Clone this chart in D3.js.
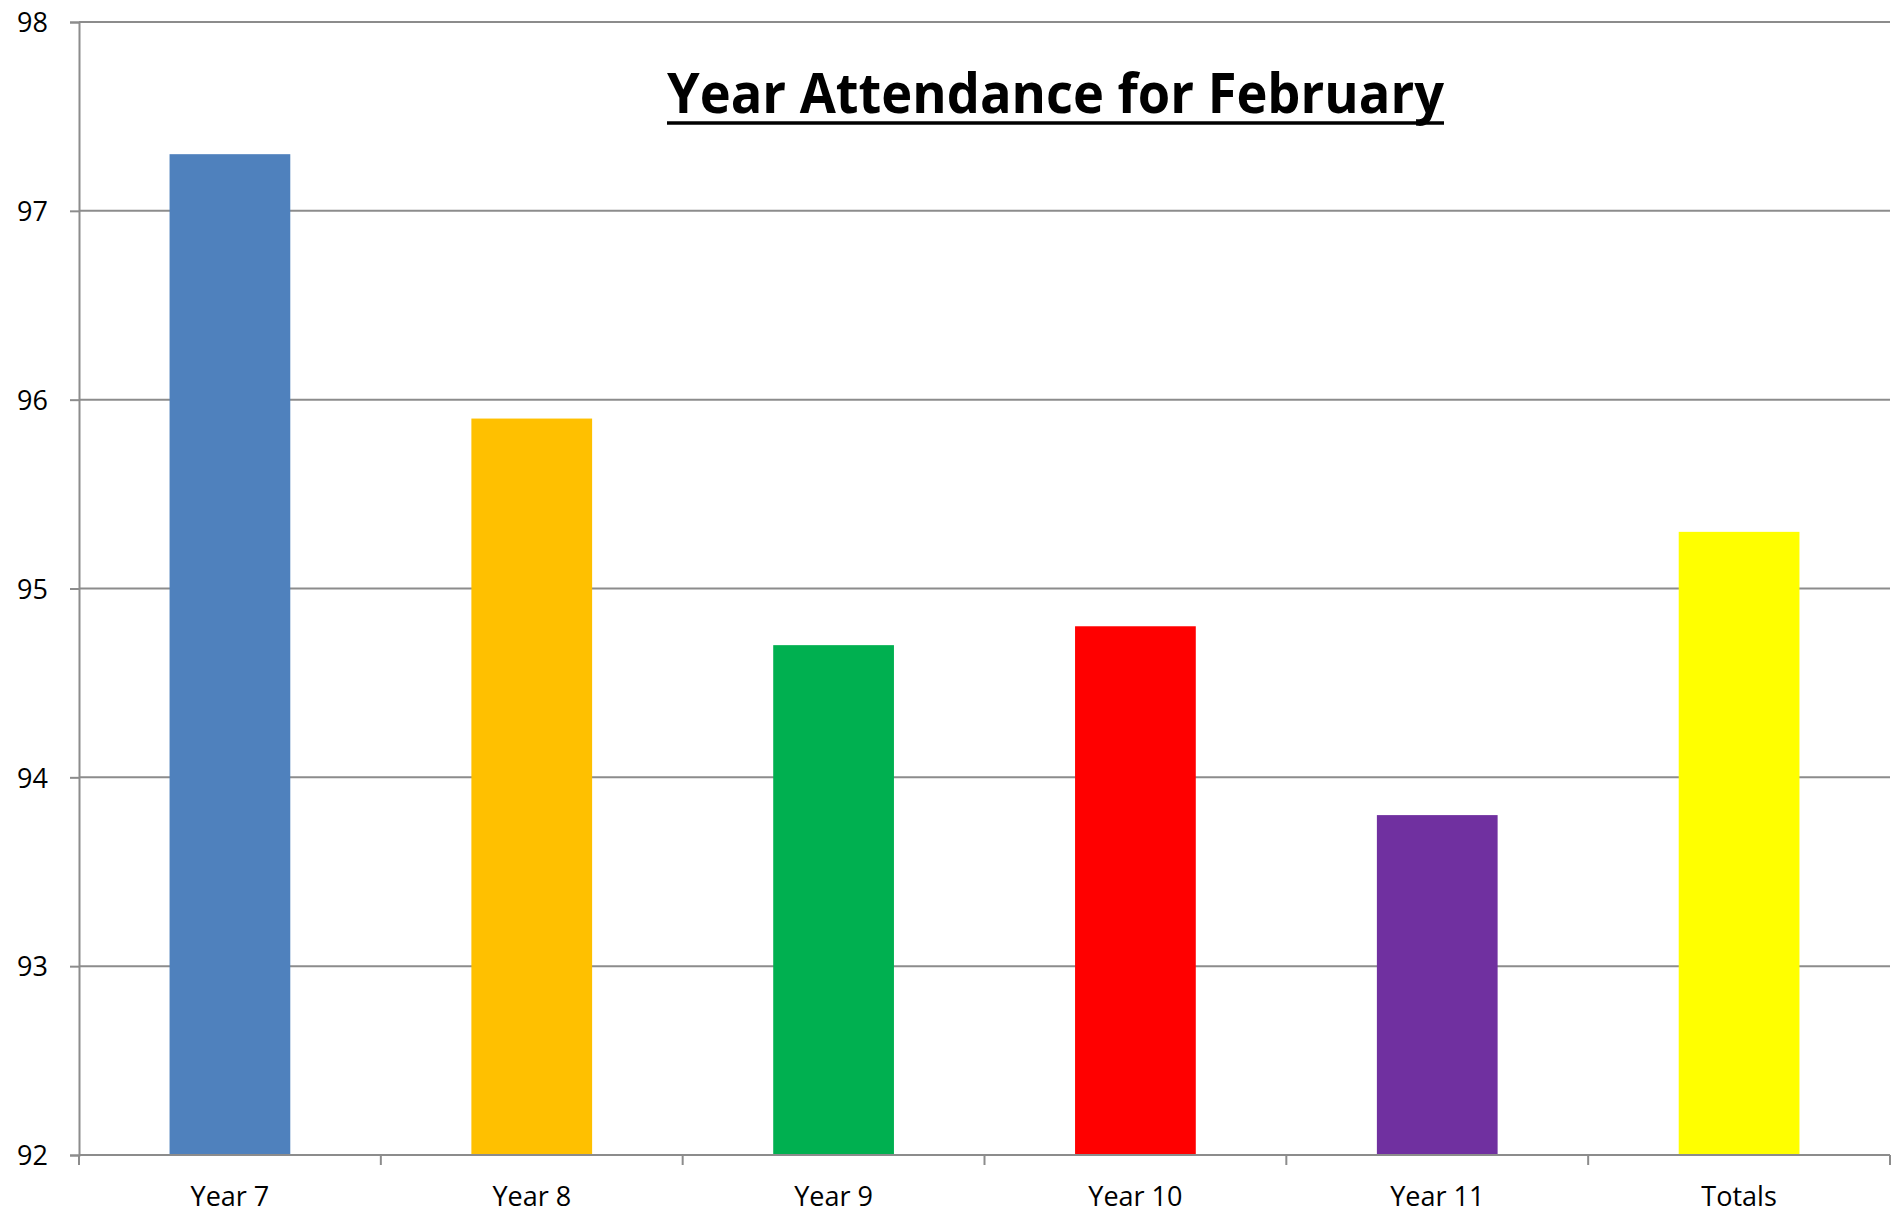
<!DOCTYPE html>
<html>
<head>
<meta charset="utf-8">
<script src="https://cdn.jsdelivr.net/npm/d3@7"></script>
<style>
  html, body { margin: 0; padding: 0; background: #fff; }
  svg { display: block; }
  .tick text { font-family: "Open Sans", sans-serif; fill: #000; }
</style>
</head>
<body>
<svg id="chart" width="1901" height="1217"></svg>
<script>
const categories = ['Year 7', 'Year 8', 'Year 9', 'Year 10', 'Year 11', 'Totals'];
const attendance = [97.3, 95.9, 94.7, 94.8, 93.8, 95.3];
const barColors = ['#4f81bd', '#ffc000', '#00b050', '#ff0000', '#7030a0', '#ffff00'];
const yTicks = [92, 93, 94, 95, 96, 97, 98];

const width = 1901;
const height = 1217;
const margin = { top: 22, right: 11, bottom: 62, left: 79 };

const svg = d3.select('#chart');

const x = d3.scaleBand()
  .domain(categories)
  .range([margin.left, width - margin.right])
  .paddingInner(0.6)
  .paddingOuter(0.3);

const y = d3.scaleLinear()
  .domain([92, 98])
  .range([height - margin.bottom, margin.top]);

// gridlines
svg.append('g')
  .attr('class', 'grid')
  .selectAll('line')
  .data(yTicks.slice(1))
  .enter()
  .append('line')
  .attr('x1', margin.left)
  .attr('x2', width - margin.right)
  .attr('y1', d => y(d))
  .attr('y2', d => y(d))
  .attr('stroke', '#8c8c8c')
  .attr('stroke-width', 2);

// bars
svg.append('g')
  .selectAll('rect')
  .data(categories)
  .enter()
  .append('rect')
  .attr('x', d => x(d))
  .attr('width', x.bandwidth())
  .attr('y', (d, i) => y(attendance[i]))
  .attr('height', (d, i) => y(92) - y(attendance[i]))
  .attr('fill', (d, i) => barColors[i]);

// y axis
const yAxis = svg.append('g')
  .attr('transform', `translate(${margin.left},0)`)
  .call(d3.axisLeft(y).tickValues(yTicks).tickFormat(d3.format('d')).tickSize(9).tickPadding(22));
yAxis.select('.domain').attr('stroke', '#8c8c8c').attr('stroke-width', 2);
yAxis.selectAll('.tick line').attr('stroke', '#8c8c8c').attr('stroke-width', 2);
yAxis.selectAll('.tick text').attr('font-size', 27).attr('dy', '0.36em').attr('x', -31);

// x axis (ticks at category boundaries)
const xAxisG = svg.append('g')
  .attr('transform', `translate(0,${y(92)})`);
xAxisG.append('line')
  .attr('x1', margin.left)
  .attr('x2', width - margin.right)
  .attr('stroke', '#8c8c8c')
  .attr('stroke-width', 2);
const bounds = d3.range(categories.length + 1).map(i => margin.left + i * (width - margin.left - margin.right) / categories.length);
xAxisG.selectAll('.bound')
  .data(bounds)
  .enter()
  .append('line')
  .attr('class', 'bound')
  .attr('x1', d => d)
  .attr('x2', d => d)
  .attr('y1', 0)
  .attr('y2', 10)
  .attr('stroke', '#8c8c8c')
  .attr('stroke-width', 2);
xAxisG.selectAll('.lbl')
  .data(categories)
  .enter()
  .append('text')
  .attr('class', 'lbl')
  .attr('x', d => x(d) + x.bandwidth() / 2)
  .attr('y', 51)
  .attr('text-anchor', 'middle')
  .attr('font-family', '"Open Sans", sans-serif')
  .attr('font-size', 27)
  .attr('fill', '#000')
  .text(d => d);

// title
svg.append('text')
  .attr('x', 667)
  .attr('y', 113)
  .attr('font-family', '"Open Sans", sans-serif')
  .attr('font-weight', 'bold')
  .attr('font-size', 56)
  .attr('textLength', 777)
  .attr('lengthAdjust', 'spacingAndGlyphs')
  .attr('fill', '#000')
  .text('Year Attendance for February');

svg.append('line')
  .attr('x1', 667)
  .attr('x2', 667 + 777)
  .attr('y1', 123)
  .attr('y2', 123)
  .attr('stroke', '#000')
  .attr('stroke-width', 3.5);
</script>
</body>
</html>
